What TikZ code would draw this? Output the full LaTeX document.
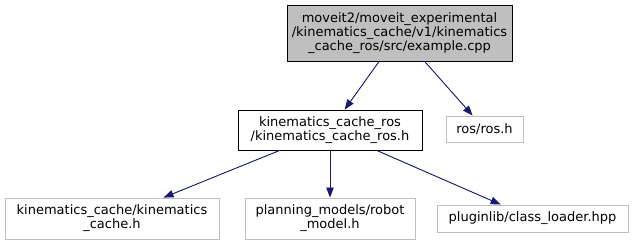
\documentclass[tikz,border=0pt]{standalone}
\usepackage{fontspec}
\setmainfont{DejaVu Sans}
\usepackage{xcolor}
\usepackage{tikz}
\usetikzlibrary{arrows.meta}
\definecolor{edgeblue}{HTML}{191970}
\definecolor{boxgrey}{HTML}{BFBFBF}
\tikzset{file/.style={draw=black,fill=white,line width=0.9pt,inner sep=0pt,align=center,minimum height=41pt,font=\fontsize{13}{14}\selectfont},
         extfile/.style={file,draw=boxgrey},
         dep/.style={->,draw=edgeblue,fill=edgeblue,line width=0.9pt}}

\begin{document}
\begin{tikzpicture}[x=1pt,y=-1pt,>={Triangle[length=10pt,width=7.5pt]}]
    \useasboundingbox (0,0) rectangle (636,245);

    \node[file,fill=boxgrey,minimum width=225pt,minimum height=56pt] (main) at (399.5,33) {moveit2/moveit\_experimental\\/kinematics\_cache/v1/kinematics\\\_cache\_ros/src/example.cpp};
    \node[file,minimum width=184pt,minimum height=40pt] (kcros) at (330,130) {kinematics\_cache\_ros\\/kinematics\_cache\_ros.h};
    \node[extfile,minimum width=77pt,minimum height=26pt] (ros) at (484.5,129) {ros/ros.h};
    \node[extfile,minimum width=214pt] (kc) at (112,218.5) {kinematics\_cache/kinematics\\\_cache.h};
    \node[extfile,minimum width=170pt] (pm) at (330,218.5) {planning\_models/robot\\\_model.h};
    \node[extfile,minimum width=191pt,minimum height=27pt] (pl) at (532.5,218.5) {pluginlib/class\_loader.hpp};

    \draw [dep] (main) to (kcros);
    \draw [dep] (main) to (ros);
    \draw [dep] (kcros) to (kc);
    \draw [dep] (kcros) to (pm);
    \draw [dep] (kcros) to (pl);
\end{tikzpicture}
\end{document}
